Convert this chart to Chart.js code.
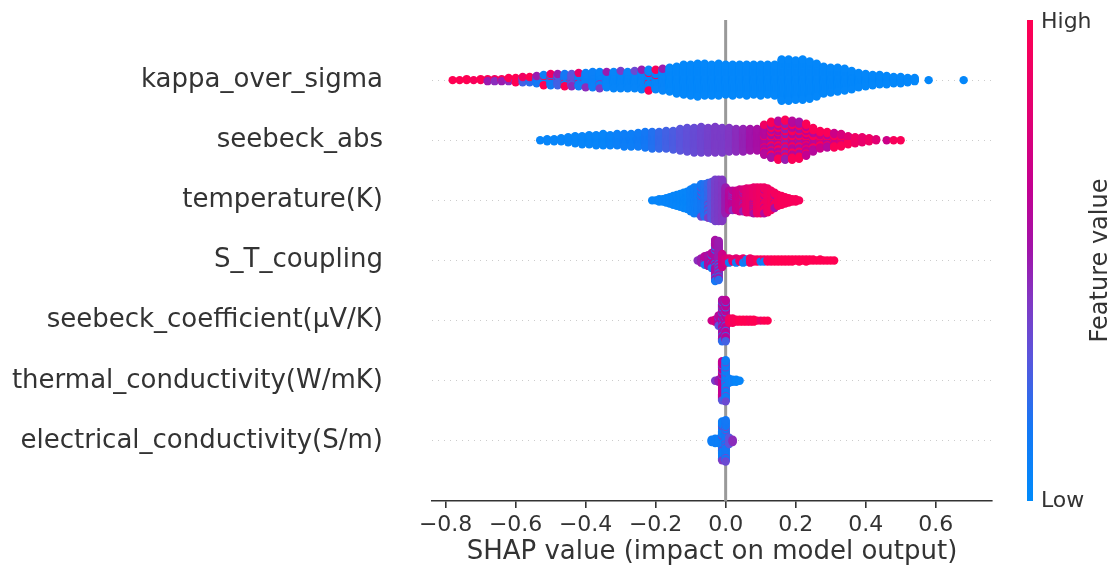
<!DOCTYPE html>
<html>
<head>
<meta charset="utf-8">
<script src="https://cdn.jsdelivr.net/npm/chart.js@4.4.1/dist/chart.umd.min.js"></script>
<style>
  html, body { margin: 0; padding: 0; background: #fff; }
  #wrap { width: 1115px; height: 572px; }
</style>
</head>
<body>
<div id="wrap"><canvas id="shap" width="1115" height="572"></canvas></div>
<script>
// rows, bottom (0) to top (6)
const rowNames = [
  'electrical_conductivity(S/m)',
  'thermal_conductivity(W/mK)',
  'seebeck_coefficient(\u03bcV/K)',
  'S_T_coupling',
  'temperature(K)',
  'seebeck_abs',
  'kappa_over_sigma'
];
const xTicks = [-0.8, -0.6, -0.4, -0.2, 0.0, 0.2, 0.4, 0.6];

// each feature: SHAP bin position, number of samples in the bin, feature value (0 low .. 1 high)
// plus a "mix" set for minority-coloured samples sharing those bins
const kappaX = [-0.78,-0.76,-0.74,-0.72,-0.70,-0.68,-0.66,-0.64,-0.62,-0.60,-0.58,-0.56,-0.54,-0.52,-0.50,-0.48,-0.46,-0.44,-0.42,-0.40,-0.38,-0.36,-0.34,-0.32,-0.30,-0.28,-0.26,-0.24,-0.22,-0.20,-0.18,-0.16,-0.14,-0.12,-0.10,-0.08,-0.06,-0.04,-0.02,0.00,0.02,0.04,0.06,0.08,0.10,0.12,0.14,0.16,0.18,0.20,0.22,0.24,0.26,0.28,0.30,0.32,0.34,0.36,0.38,0.40,0.42,0.44,0.46,0.48,0.50,0.52,0.54,0.58,0.68];
const kappaN = [1,1,2,1,2,2,2,2,2,2,4,3,6,8,9,10,11,11,12,14,16,15,15,17,17,17,17,19,18,18,21,24,27,30,31,33,32,31,32,30,31,30,31,30,31,30,31,41,41,39,40,37,33,27,25,24,22,19,15,13,11,10,9,7,7,5,4,1,1];
const kappaV = [1,1,1,0.95,1,0.95,0.9,0.95,0.45,0.3,0.25,0.2,0.15,0.1,0.12,0.25,0.15,0.3,0.12,0.08,0.08,0.06,0.05,0.05,0.05,0.05,0.05,0.05,0.05,0.05,0.05,0.03,0.03,0.03,0.03,0.03,0.03,0.03,0.03,0.03,0.03,0.03,0.03,0.03,0.03,0.03,0.03,0.03,0.03,0.03,0.03,0.03,0.03,0.03,0.03,0.03,0.03,0.03,0.03,0.03,0.03,0.03,0.03,0.03,0.03,0.03,0.03,0.03,0.03];
const kappaMixX = [-0.68,-0.66,-0.64,-0.62,-0.60,-0.58,-0.56,-0.54,-0.52,-0.50,-0.48,-0.46,-0.44,-0.42,-0.40,-0.36,-0.34,-0.30,-0.26,-0.24,-0.22,-0.20,-0.18];
const kappaMixN = [1,1,1,2,3,2,3,2,3,3,2,2,2,2,1,2,1,1,1,1,3,2,1];
const kappaMixV = [0.5,0.45,0.5,1,1,0.9,1,0.5,1,0.9,0.5,1,0.45,0.85,0.45,0.4,0.5,0.4,0.35,0.5,1,0.95,0.5];

const absX = [-0.53,-0.51,-0.49,-0.47,-0.45,-0.43,-0.41,-0.39,-0.37,-0.35,-0.33,-0.31,-0.29,-0.27,-0.25,-0.23,-0.21,-0.19,-0.17,-0.15,-0.13,-0.11,-0.09,-0.07,-0.05,-0.03,-0.01,0.01,0.03,0.05,0.07,0.09,0.11,0.13,0.15,0.17,0.19,0.21,0.23,0.25,0.27,0.29,0.31,0.33,0.35,0.37,0.39,0.41,0.43,0.46,0.48,0.50];
const absN = [1,3,3,4,6,8,9,10,11,12,11,12,13,13,14,16,17,17,18,19,22,24,25,26,25,26,25,24,23,23,22,22,26,22,24,24,23,22,20,14,11,10,9,8,5,7,6,4,2,1,1,1];
const absV = [0.05,0.05,0.05,0.05,0.05,0.05,0.05,0.05,0.05,0.05,0.06,0.08,0.1,0.1,0.12,0.15,0.18,0.22,0.25,0.27,0.3,0.32,0.34,0.36,0.38,0.4,0.4,0.42,0.45,0.48,0.52,0.55,0.6,0.55,0.6,0.5,0.6,0.55,0.65,0.6,0.7,0.6,0.7,0.75,0.8,0.9,0.85,0.9,0.8,0.7,0.95,0.97];
const absMixX = [0.11,0.13,0.15,0.17,0.19,0.21,0.23,0.25,0.27,0.29,0.31,0.33,0.35];
const absMixN = [4,14,15,16,16,15,12,10,7,6,6,5,4];
const absMixV = [0.9,0.97,0.97,0.97,0.97,0.97,0.97,0.97,0.97,0.97,0.97,0.97,0.97];

const tempX = [-0.21,-0.20,-0.19,-0.18,-0.17,-0.16,-0.15,-0.14,-0.13,-0.12,-0.11,-0.10,-0.09,-0.08,-0.07,-0.06,-0.05,-0.04,-0.03,-0.02,-0.01,0.00,0.01,0.02,0.03,0.04,0.05,0.06,0.07,0.08,0.09,0.10,0.11,0.12,0.13,0.14,0.15,0.16,0.17,0.18,0.19,0.20,0.21];
const tempN = [1,1,3,3,5,7,9,11,13,15,17,21,25,25,27,31,29,35,39,39,39,25,19,14,19,21,15,23,23,19,25,25,20,23,19,12,11,9,7,5,3,3,1];
const tempV = [0.05,0.05,0.05,0.05,0.05,0.05,0.05,0.05,0.05,0.05,0.05,0.08,0.1,0.12,0.15,0.18,0.22,0.3,0.38,0.4,0.42,0.5,0.6,0.62,0.68,0.7,0.75,0.8,0.82,0.85,0.87,0.9,0.9,0.9,0.92,0.93,0.93,0.95,0.95,0.95,0.95,0.95,0.95];
const tempMixX = [-0.07,-0.05,0.02,0.05,0.08,0.11,0.14];
const tempMixN = [4,4,5,6,6,5,3];
const tempMixV = [0.35,0.4,0.45,0.5,0.55,0.6,0.55];

const stX = [-0.08,-0.07,-0.06,-0.05,-0.04,-0.03,-0.02,-0.01,0.00,0.01,0.02,0.03,0.04,0.05,0.06,0.07,0.08,0.09,0.10,0.11,0.12,0.13,0.14,0.15,0.16,0.17,0.18,0.19,0.20,0.21,0.22,0.23,0.24,0.25,0.26,0.27,0.28,0.29,0.30,0.31];
const stN = [1,5,7,11,12,33,31,13,5,3,3,3,3,4,1,5,3,3,2,2,3,3,3,3,3,3,3,3,2,3,2,3,2,2,1,2,1,1,1,1];
const stV = [0.45,0.5,0.6,0.55,0.6,0.55,0.5,0.7,0.75,0.8,0.85,0.8,0.85,0.85,0.9,0.9,0.9,0.95,0.95,0.95,0.97,0.97,1,1,1,1,1,1,1,1,1,1,1,1,1,1,1,1,1,1];
const stMixX = [-0.06,-0.04,-0.03,-0.02,0.01,0.03,0.05,0.06,0.10,0.11];
const stMixN = [2,3,6,6,2,2,1,2,1,1];
const stMixV = [0.1,0.15,0.15,0.2,0.1,0.1,0.1,0.15,0.15,0.1];

const coefX = [-0.04,-0.03,-0.02,-0.01,0.00,0.01,0.02,0.03,0.04,0.05,0.06,0.07,0.08,0.09,0.10,0.11,0.12];
const coefN = [1,3,9,33,33,5,5,3,3,3,3,3,3,1,1,1,1];
const coefV = [0.7,0.75,0.6,0.55,0.62,0.9,0.95,0.97,1,1,1,0.97,1,1,0.9,1,1];
const coefMixX = [-0.02,-0.01,0.00];
const coefMixN = [2,8,8];
const coefMixV = [0.3,0.2,0.25];

const thermX = [-0.03,-0.02,-0.01,0.00,0.01,0.02,0.03,0.04];
const thermN = [1,3,35,33,5,3,3,1];
const thermV = [0.4,0.5,0.65,0.1,0.1,0.08,0.05,0.05];
const thermMixX = [-0.01,0.00];
const thermMixN = [4,8];
const thermMixV = [0.3,0.35];

const elecX = [-0.04,-0.03,-0.02,-0.01,0.00,0.01,0.02];
const elecN = [3,5,5,33,33,7,3];
const elecV = [0.1,0.1,0.1,0.1,0.15,0.3,0.45];
const elecMixX = [-0.01,0.00];
const elecMixN = [4,6];
const elecMixV = [0.4,0.35];

const features = [
  [elecX, elecN, elecV, elecMixX, elecMixN, elecMixV],
  [thermX, thermN, thermV, thermMixX, thermMixN, thermMixV],
  [coefX, coefN, coefV, coefMixX, coefMixN, coefMixV],
  [stX, stN, stV, stMixX, stMixN, stMixV],
  [tempX, tempN, tempV, tempMixX, tempMixN, tempMixV],
  [absX, absN, absV, absMixX, absMixN, absMixV],
  [kappaX, kappaN, kappaV, kappaMixX, kappaMixN, kappaMixV]
];

// blue -> purple -> red, like shap's red_blue map
const colorStops = [
  [0.00, [0, 139, 251]],
  [0.15, [20, 120, 245]],
  [0.30, [90, 85, 220]],
  [0.42, [130, 55, 195]],
  [0.52, [160, 20, 170]],
  [0.65, [195, 0, 145]],
  [0.80, [225, 0, 115]],
  [1.00, [255, 0, 82]]
];
const FONT = '"DejaVu Sans", Verdana, sans-serif';

function featureColor(v) {
  for (let i = 1; i < colorStops.length; i++) {
    const [p1, c1] = colorStops[i];
    const [p0, c0] = colorStops[i - 1];
    if (v <= p1) {
      const t = (v - p0) / (p1 - p0);
      const c = c0.map((a, k) => Math.round(a + (c1[k] - a) * t));
      return `rgb(${c[0]},${c[1]},${c[2]})`;
    }
  }
  const c = colorStops[colorStops.length - 1][1];
  return `rgb(${c[0]},${c[1]},${c[2]})`;
}

// stack the samples of each bin up and down around the row, the way shap's beeswarm does
function buildSwarm(row, xs, ns, vs, mxs, mns, mvs) {
  const bins = new Map();
  function put(x, n, v, key) {
    const id = x.toFixed(3);
    if (!bins.has(id)) bins.set(id, { x: x, main: [], mix: [] });
    for (let i = 0; i < n; i++) bins.get(id)[key].push(v);
  }
  xs.forEach((x, i) => put(x, ns[i], vs[i], 'main'));
  mxs.forEach((x, i) => put(x, mns[i], mvs[i], 'mix'));

  const stacked = [];
  let maxLayer = 0;
  bins.forEach(b => {
    const total = b.main.length + b.mix.length;
    let a = 0, m = 0;
    for (let k = 0; k < total; k++) {
      let v;
      if (m < b.mix.length && Math.floor((k + 1) * b.mix.length / total) > m) v = b.mix[m++];
      else v = b.main[a++];
      const layer = Math.ceil(k / 2) * ((k % 2) * 2 - 1);
      maxLayer = Math.max(maxLayer, Math.abs(layer));
      stacked.push({ x: b.x, layer: layer, v: v });
    }
  });
  const step = 0.9 * 0.4 / (maxLayer + 1);
  return {
    data: stacked.map(p => ({ x: p.x, y: row + p.layer * step })),
    colors: stacked.map(p => featureColor(p.v))
  };
}

const datasets = features.map((f, row) => {
  const s = buildSwarm(row, ...f);
  return {
    label: rowNames[row],
    data: s.data,
    pointBackgroundColor: s.colors,
    pointBorderWidth: 0,
    pointRadius: 4.2,
    pointHoverRadius: 4.2
  };
});

const zeroLine = {
  id: 'zeroLine',
  beforeDatasetsDraw(chart) {
    const { ctx, chartArea, scales } = chart;
    const x = scales.x.getPixelForValue(0);
    ctx.save();
    ctx.strokeStyle = '#999999';
    ctx.lineWidth = 3;
    ctx.beginPath();
    ctx.moveTo(x, chartArea.top);
    ctx.lineTo(x, chartArea.bottom);
    ctx.stroke();
    ctx.restore();
  }
};

const colorBar = {
  id: 'colorBar',
  afterDraw(chart) {
    const { ctx, chartArea } = chart;
    const x0 = 1027, w = 6;
    const top = chartArea.top, bottom = chartArea.bottom;
    const g = ctx.createLinearGradient(0, bottom, 0, top);
    colorStops.forEach(s => g.addColorStop(s[0], `rgb(${s[1].join(',')})`));
    ctx.save();
    ctx.fillStyle = g;
    ctx.fillRect(x0, top, w, bottom - top);
    ctx.fillStyle = '#333333';
    ctx.font = '22px ' + FONT;
    ctx.textAlign = 'left';
    ctx.textBaseline = 'middle';
    ctx.fillText('High', x0 + w + 8, top + 2);
    ctx.fillText('Low', x0 + w + 8, bottom);
    ctx.translate(1101, (top + bottom) / 2);
    ctx.rotate(-Math.PI / 2);
    ctx.textAlign = 'center';
    ctx.font = '24px ' + FONT;
    ctx.fillText('Feature value', 0, 0);
    ctx.restore();
  }
};

new Chart(document.getElementById('shap').getContext('2d'), {
  type: 'scatter',
  data: { datasets: datasets },
  options: {
    responsive: false,
    animation: false,
    events: [],
    layout: { padding: { left: 0, right: 123, top: 20, bottom: 0 } },
    plugins: { legend: { display: false }, tooltip: { enabled: false } },
    scales: {
      x: {
        type: 'linear',
        min: -0.839,
        max: 0.761,
        afterBuildTicks: s => { s.ticks = xTicks.map(v => ({ value: v })); },
        afterFit: s => { s.height = 71; s.paddingLeft = 0; s.paddingRight = 0; },
        ticks: {
          autoSkip: false,
          maxRotation: 0,
          padding: 4,
          color: '#333333',
          font: { family: FONT, size: 22 },
          callback: v => v.toFixed(1).replace('-', '\u2212')
        },
        grid: { drawOnChartArea: false, drawTicks: true, tickLength: 7, color: '#333333', lineWidth: 1.6 },
        border: { display: true, color: '#333333', width: 1.6 },
        title: {
          display: true,
          text: 'SHAP value (impact on model output)',
          color: '#333333',
          font: { family: FONT, size: 26 },
          padding: { top: 0, bottom: 4 }
        }
      },
      y: {
        type: 'linear',
        min: -1,
        max: 7,
        afterBuildTicks: s => { s.ticks = rowNames.map((n, i) => ({ value: i })); },
        afterFit: s => { s.width = 432; s.paddingTop = 0; s.paddingBottom = 0; },
        ticks: {
          padding: 49,
          color: '#333333',
          font: { family: FONT, size: 26 },
          callback: v => rowNames[Math.round(v)]
        },
        grid: { drawTicks: false, color: '#cccccc', lineWidth: 1 },
        border: { display: false, dash: [1, 5] }
      }
    }
  },
  plugins: [zeroLine, colorBar]
});
</script>
</body>
</html>
